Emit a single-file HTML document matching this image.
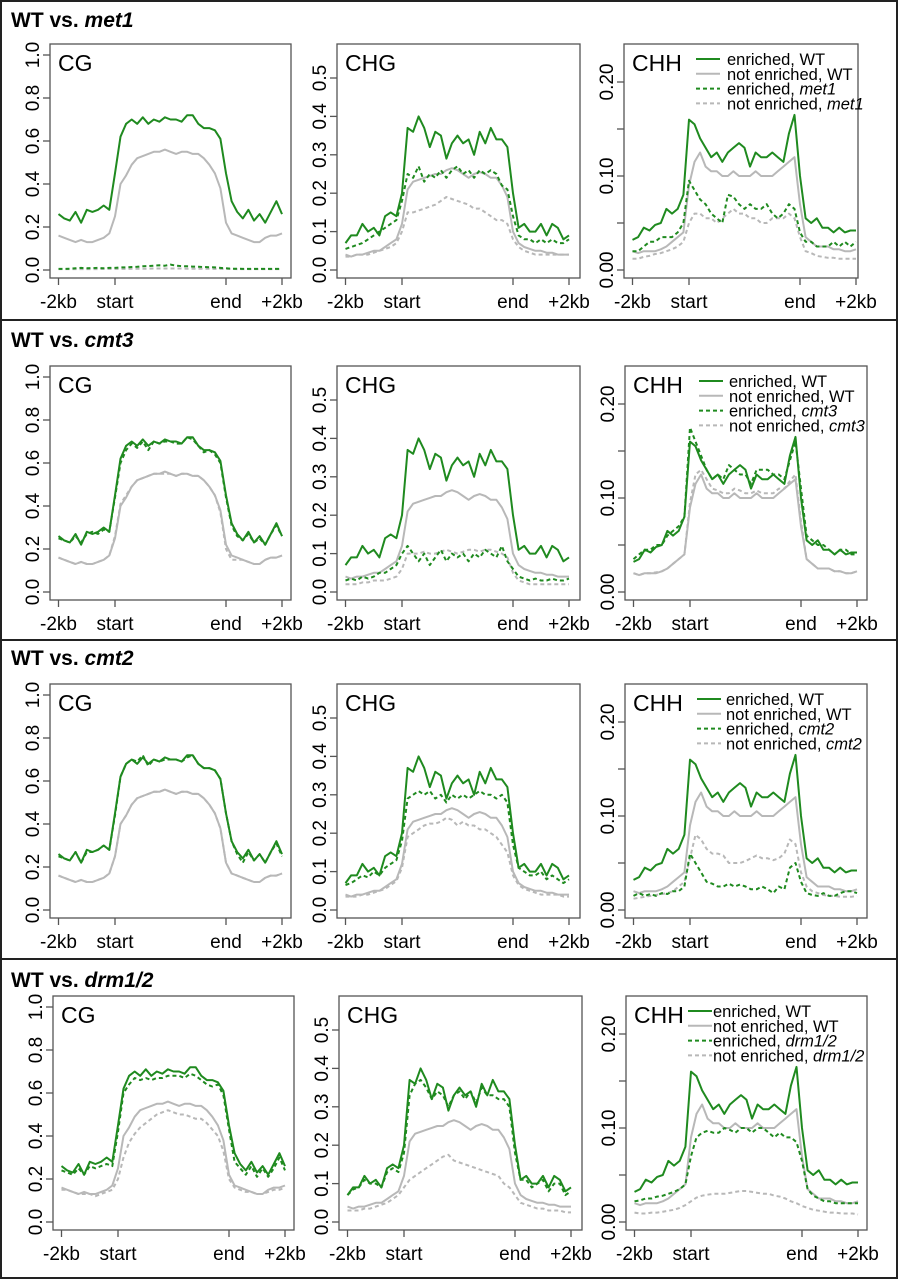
<!DOCTYPE html>
<html><head><meta charset="utf-8"><title>Methylation profiles</title>
<style>
html,body{margin:0;padding:0;background:#fff}
svg{display:block;font-family:"Liberation Sans",Arial,sans-serif}
</style></head>
<body>
<svg id="fig" width="899" height="1280" viewBox="0 0 899 1280" xmlns="http://www.w3.org/2000/svg"></svg>
<script>
// ---- data ----
const binLabels = ['-2kb','start','end','+2kb'];
const contexts = ['CG','CHG','CHH'];
const mutants = ['met1','cmt3','cmt2','drm1/2'];
const cgTicks = ['0.0','0.2','0.4','0.6','0.8','1.0'];
const cgTickValues = [0,0.2,0.4,0.6,0.8,1.0];
const chgTicks = ['0.0','0.1','0.2','0.3','0.4','0.5'];
const chgTickValues = [0,0.1,0.2,0.3,0.4,0.5];
const chhTicks = ['0.00','','0.10','','0.20'];
const chhTickValues = [0,0.05,0.10,0.15,0.20];

const wtCgEnr = [0.26,0.24,0.23,0.27,0.22,0.28,0.27,0.28,0.30,0.28,0.45,0.62,0.68,0.70,0.68,0.71,0.68,0.70,0.69,0.71,0.70,0.70,0.69,0.72,0.72,0.68,0.66,0.66,0.65,0.61,0.45,0.32,0.27,0.24,0.28,0.23,0.26,0.22,0.27,0.32,0.26];
const wtCgNot = [0.16,0.15,0.14,0.13,0.14,0.13,0.13,0.14,0.15,0.17,0.25,0.40,0.44,0.49,0.52,0.53,0.54,0.55,0.55,0.56,0.55,0.54,0.55,0.55,0.54,0.54,0.52,0.49,0.45,0.38,0.22,0.17,0.16,0.15,0.14,0.13,0.13,0.15,0.16,0.16,0.17];
const wtChgEnr = [0.07,0.09,0.09,0.12,0.10,0.11,0.09,0.14,0.15,0.14,0.20,0.37,0.36,0.40,0.37,0.32,0.36,0.35,0.29,0.33,0.35,0.33,0.34,0.30,0.36,0.33,0.37,0.34,0.34,0.32,0.20,0.11,0.12,0.10,0.10,0.12,0.09,0.12,0.11,0.08,0.09];
const wtChgNot = [0.04,0.035,0.04,0.04,0.045,0.05,0.05,0.06,0.07,0.08,0.12,0.21,0.23,0.235,0.24,0.245,0.25,0.25,0.26,0.265,0.26,0.25,0.24,0.25,0.255,0.25,0.24,0.24,0.22,0.19,0.10,0.07,0.06,0.055,0.05,0.05,0.045,0.045,0.04,0.04,0.04];
const wtChhEnr = [0.032,0.035,0.045,0.042,0.048,0.05,0.065,0.06,0.065,0.08,0.16,0.155,0.14,0.13,0.12,0.125,0.115,0.125,0.13,0.135,0.13,0.11,0.125,0.12,0.12,0.125,0.12,0.115,0.145,0.165,0.10,0.055,0.05,0.055,0.045,0.045,0.04,0.045,0.04,0.042,0.042];
const wtChhNot = [0.02,0.018,0.02,0.02,0.02,0.022,0.025,0.03,0.035,0.04,0.09,0.115,0.125,0.11,0.105,0.105,0.10,0.10,0.105,0.10,0.10,0.10,0.105,0.10,0.10,0.10,0.105,0.11,0.115,0.12,0.07,0.035,0.03,0.025,0.025,0.025,0.022,0.022,0.02,0.02,0.022];

const met1CgEnr = [0.005,0.005,0.006,0.008,0.01,0.008,0.009,0.01,0.008,0.01,0.01,0.012,0.012,0.014,0.015,0.017,0.018,0.02,0.022,0.02,0.025,0.02,0.018,0.017,0.016,0.015,0.014,0.013,0.012,0.01,0.008,0.006,0.006,0.005,0.005,0.005,0.005,0.005,0.005,0.005,0.005];
const met1CgNot = [0.004,0.004,0.004,0.004,0.004,0.004,0.004,0.004,0.005,0.005,0.005,0.005,0.005,0.006,0.006,0.006,0.006,0.007,0.007,0.007,0.007,0.007,0.007,0.006,0.006,0.006,0.006,0.006,0.005,0.005,0.005,0.005,0.004,0.004,0.004,0.004,0.004,0.004,0.004,0.004,0.004];
const met1ChgEnr = [0.055,0.06,0.065,0.07,0.08,0.09,0.10,0.11,0.12,0.13,0.18,0.25,0.24,0.27,0.23,0.25,0.24,0.26,0.24,0.26,0.27,0.25,0.26,0.24,0.26,0.25,0.26,0.25,0.22,0.21,0.14,0.09,0.08,0.08,0.07,0.08,0.07,0.08,0.07,0.07,0.08];
const met1ChgNot = [0.035,0.035,0.04,0.04,0.04,0.045,0.05,0.055,0.06,0.07,0.10,0.15,0.15,0.155,0.16,0.165,0.17,0.18,0.19,0.185,0.18,0.175,0.17,0.16,0.16,0.15,0.14,0.13,0.13,0.12,0.08,0.06,0.05,0.045,0.04,0.04,0.04,0.04,0.04,0.04,0.04];
const met1ChhEnr = [0.02,0.02,0.025,0.03,0.03,0.035,0.035,0.035,0.04,0.05,0.095,0.085,0.075,0.07,0.06,0.055,0.05,0.08,0.078,0.07,0.065,0.07,0.065,0.065,0.07,0.06,0.055,0.06,0.07,0.065,0.04,0.03,0.03,0.025,0.025,0.025,0.03,0.025,0.03,0.025,0.03];
const met1ChhNot = [0.012,0.012,0.014,0.015,0.017,0.018,0.02,0.022,0.025,0.03,0.05,0.06,0.06,0.055,0.055,0.05,0.055,0.06,0.065,0.06,0.06,0.055,0.055,0.05,0.05,0.055,0.055,0.055,0.06,0.055,0.035,0.02,0.018,0.015,0.014,0.013,0.013,0.012,0.012,0.012,0.012];

const cmt3CgEnr = [0.25,0.24,0.23,0.26,0.23,0.27,0.28,0.27,0.29,0.28,0.44,0.60,0.66,0.69,0.67,0.70,0.66,0.70,0.69,0.70,0.70,0.69,0.69,0.72,0.71,0.68,0.65,0.66,0.64,0.60,0.44,0.31,0.26,0.24,0.27,0.23,0.25,0.22,0.27,0.31,0.26];
const cmt3CgNot = [0.16,0.15,0.14,0.13,0.14,0.13,0.13,0.14,0.15,0.17,0.26,0.41,0.45,0.49,0.52,0.53,0.54,0.55,0.55,0.55,0.55,0.54,0.55,0.55,0.54,0.54,0.52,0.49,0.45,0.37,0.20,0.15,0.15,0.15,0.14,0.13,0.13,0.15,0.16,0.16,0.17];
const cmt3ChgEnr = [0.03,0.035,0.03,0.04,0.035,0.04,0.05,0.05,0.06,0.07,0.10,0.12,0.10,0.08,0.10,0.07,0.09,0.11,0.08,0.10,0.09,0.10,0.08,0.10,0.09,0.11,0.10,0.09,0.12,0.08,0.06,0.04,0.035,0.03,0.035,0.03,0.03,0.035,0.03,0.03,0.035];
const cmt3ChgNot = [0.02,0.02,0.02,0.025,0.025,0.03,0.03,0.03,0.035,0.04,0.06,0.10,0.10,0.10,0.105,0.10,0.10,0.105,0.11,0.105,0.10,0.105,0.11,0.11,0.105,0.11,0.11,0.105,0.10,0.09,0.05,0.03,0.025,0.02,0.02,0.02,0.02,0.02,0.02,0.02,0.02];
const cmt3ChhEnr = [0.035,0.04,0.045,0.045,0.05,0.05,0.06,0.065,0.07,0.08,0.175,0.16,0.145,0.13,0.12,0.125,0.12,0.135,0.13,0.125,0.125,0.115,0.13,0.13,0.13,0.125,0.125,0.12,0.14,0.16,0.11,0.06,0.055,0.05,0.05,0.045,0.04,0.045,0.045,0.04,0.04];
const cmt3ChhNot = [0.02,0.018,0.02,0.02,0.021,0.022,0.025,0.03,0.035,0.04,0.095,0.125,0.13,0.12,0.11,0.108,0.105,0.105,0.11,0.108,0.105,0.105,0.108,0.105,0.105,0.105,0.11,0.11,0.118,0.125,0.075,0.035,0.03,0.025,0.025,0.025,0.022,0.022,0.02,0.02,0.022];

const cmt2CgEnr = [0.25,0.24,0.23,0.27,0.22,0.27,0.27,0.28,0.30,0.28,0.44,0.62,0.68,0.70,0.69,0.72,0.67,0.70,0.69,0.70,0.70,0.70,0.69,0.71,0.72,0.68,0.66,0.66,0.65,0.61,0.45,0.32,0.26,0.22,0.27,0.23,0.26,0.22,0.27,0.31,0.25];
const cmt2CgNot = [0.16,0.15,0.14,0.13,0.14,0.13,0.13,0.14,0.15,0.17,0.25,0.40,0.44,0.49,0.52,0.53,0.54,0.55,0.55,0.56,0.55,0.54,0.55,0.55,0.54,0.54,0.52,0.49,0.45,0.38,0.22,0.17,0.16,0.15,0.14,0.13,0.13,0.15,0.16,0.16,0.17];
const cmt2ChgEnr = [0.065,0.07,0.08,0.09,0.085,0.10,0.09,0.11,0.12,0.13,0.18,0.29,0.30,0.31,0.30,0.31,0.29,0.30,0.28,0.30,0.29,0.30,0.29,0.30,0.31,0.30,0.30,0.29,0.30,0.28,0.17,0.11,0.10,0.09,0.09,0.10,0.08,0.09,0.08,0.07,0.08];
const cmt2ChgNot = [0.035,0.035,0.035,0.04,0.04,0.045,0.05,0.055,0.065,0.075,0.11,0.19,0.20,0.21,0.22,0.225,0.225,0.23,0.24,0.235,0.22,0.23,0.22,0.22,0.21,0.21,0.20,0.19,0.17,0.15,0.09,0.065,0.055,0.05,0.045,0.04,0.04,0.04,0.04,0.035,0.035];
const cmt2ChhEnr = [0.015,0.018,0.015,0.017,0.015,0.018,0.017,0.02,0.02,0.025,0.06,0.05,0.04,0.03,0.028,0.025,0.025,0.028,0.025,0.027,0.025,0.022,0.022,0.025,0.022,0.018,0.025,0.022,0.045,0.05,0.03,0.018,0.016,0.015,0.018,0.015,0.015,0.018,0.02,0.02,0.018];
const cmt2ChhNot = [0.012,0.013,0.014,0.015,0.016,0.017,0.018,0.02,0.025,0.03,0.055,0.08,0.075,0.065,0.06,0.06,0.058,0.05,0.05,0.05,0.052,0.055,0.058,0.055,0.055,0.053,0.055,0.06,0.075,0.07,0.04,0.025,0.02,0.018,0.016,0.015,0.015,0.014,0.014,0.014,0.015];

const drmCgEnr = [0.24,0.23,0.22,0.25,0.22,0.26,0.25,0.26,0.27,0.26,0.42,0.60,0.64,0.67,0.66,0.67,0.66,0.67,0.67,0.68,0.68,0.68,0.67,0.69,0.68,0.66,0.64,0.63,0.64,0.59,0.43,0.28,0.25,0.22,0.26,0.21,0.25,0.21,0.25,0.30,0.24];
const drmCgNot = [0.15,0.15,0.14,0.13,0.13,0.13,0.12,0.13,0.14,0.15,0.20,0.30,0.37,0.41,0.44,0.46,0.48,0.50,0.51,0.52,0.51,0.50,0.50,0.49,0.48,0.48,0.46,0.43,0.40,0.33,0.20,0.16,0.15,0.14,0.14,0.13,0.13,0.14,0.15,0.15,0.16];
const drmChgEnr = [0.07,0.085,0.09,0.11,0.10,0.10,0.09,0.13,0.14,0.13,0.18,0.33,0.36,0.37,0.35,0.32,0.34,0.33,0.30,0.33,0.34,0.32,0.34,0.31,0.35,0.33,0.33,0.32,0.32,0.30,0.18,0.11,0.11,0.09,0.10,0.11,0.08,0.10,0.10,0.07,0.08];
const drmChgNot = [0.03,0.03,0.03,0.035,0.035,0.04,0.045,0.05,0.06,0.07,0.09,0.11,0.12,0.13,0.14,0.15,0.16,0.17,0.175,0.16,0.155,0.15,0.145,0.14,0.135,0.13,0.125,0.12,0.10,0.09,0.07,0.05,0.045,0.04,0.035,0.035,0.03,0.03,0.03,0.025,0.025];
const drmChhEnr = [0.022,0.023,0.025,0.025,0.027,0.028,0.03,0.032,0.035,0.04,0.07,0.09,0.095,0.097,0.095,0.095,0.10,0.098,0.095,0.10,0.10,0.095,0.10,0.10,0.095,0.09,0.095,0.09,0.09,0.085,0.065,0.035,0.028,0.025,0.022,0.022,0.02,0.02,0.02,0.02,0.02];
const drmChhNot = [0.01,0.009,0.009,0.01,0.01,0.011,0.012,0.013,0.015,0.018,0.022,0.026,0.028,0.029,0.03,0.03,0.03,0.031,0.032,0.033,0.033,0.032,0.031,0.03,0.03,0.028,0.027,0.025,0.022,0.02,0.017,0.015,0.013,0.012,0.011,0.01,0.01,0.009,0.009,0.009,0.008];

const mutantSeries = [
  [[met1CgEnr,met1CgNot],[met1ChgEnr,met1ChgNot],[met1ChhEnr,met1ChhNot]],
  [[cmt3CgEnr,cmt3CgNot],[cmt3ChgEnr,cmt3ChgNot],[cmt3ChhEnr,cmt3ChhNot]],
  [[cmt2CgEnr,cmt2CgNot],[cmt2ChgEnr,cmt2ChgNot],[cmt2ChhEnr,cmt2ChhNot]],
  [[drmCgEnr,drmCgNot],[drmChgEnr,drmChgNot],[drmChhEnr,drmChhNot]]
];
const wtSeries = [[wtCgEnr,wtCgNot],[wtChgEnr,wtChgNot],[wtChhEnr,wtChhNot]];

// ---- layout ----
const rowTop = [0,320,640,959];
const rowTitleY = [27,347,665,987];
const rowBoxTop = [44,366,684,996];
const rowColLeft = [[50,337,624],[50,337,625],[50,337,625],[53,339,626]];
const rowColWidth = [[241,243,234],[241,243,242],[241,243,242],[241,243,241]];
const legendLineOff = [72,74,72,62];
const legendTextGap = [31,30,29,25];
const tickOff = [8.5,65,176,232];
const pxPerUnit = [215,384,940];
const BOX_H = 234, ZERO_OFF = 226;
const GREEN = '#1f8a1f', GRAY = '#b8b8b8';

const NS = 'http://www.w3.org/2000/svg';
const svg = document.getElementById('fig');
function mk(tag, attrs, parent){
  const e = document.createElementNS(NS, tag);
  for (const k in attrs) e.setAttribute(k, attrs[k]);
  (parent||svg).appendChild(e);
  return e;
}
function xScale(i, left){
  const knots=[0,10,30,40];
  for (let s=0;s<3;s++){
    if (i<=knots[s+1]){
      const t=(i-knots[s])/(knots[s+1]-knots[s]);
      return left+tickOff[s]+t*(tickOff[s+1]-tickOff[s]);
    }
  }
  return left+tickOff[3];
}
function yScale(v, top, c){ return top+ZERO_OFF - v*pxPerUnit[c]; }

const frame = mk('rect',{x:1,y:1,width:896,height:1277,fill:'none',stroke:'#222','stroke-width':2});


for (let r=1;r<4;r++){
  const sep = mk('line',{x1:1,x2:897,y1:rowTop[r],y2:rowTop[r],stroke:'#222','stroke-width':2});
  
  
}

for (let r=0;r<4;r++){
  const row = mk('g',{});
  
  
  const title = mk('text',{x:11,y:rowTitleY[r],'font-size':21,'font-weight':'bold',fill:'#000'},row);
  
  
  title.appendChild(document.createTextNode('WT vs. '));
  const ti = mk('tspan',{'font-style':'italic'},title);
  ti.textContent = mutants[r];

  for (let c=0;c<3;c++){
    const left=rowColLeft[r][c], w=rowColWidth[r][c], top=rowBoxTop[r], bottom=top+BOX_H;
    const p = mk('g',{},row);
    
    

    const defs=[
      {d:wtSeries[c][1],col:GRAY,dash:null,name:'line-not-enriched-wt'},
      {d:mutantSeries[r][c][1],col:GRAY,dash:'4,3',name:'line-not-enriched-mutant'},
      {d:mutantSeries[r][c][0],col:GREEN,dash:'4,3',name:'line-enriched-mutant'},
      {d:wtSeries[c][0],col:GREEN,dash:null,name:'line-enriched-wt'}
    ];
    for (const s of defs){
      const pts = s.d.map((v,i)=>xScale(i,left).toFixed(1)+','+yScale(v,top,c).toFixed(1)).join(' ');
      const a={points:pts,fill:'none',stroke:s.col,'stroke-width':2,'stroke-linejoin':'round'};
      if (s.dash) a['stroke-dasharray']=s.dash;
      const pl = mk('polyline',a,p);
      
      
    }

    const box = mk('rect',{x:left,y:top,width:w,height:BOX_H,fill:'none',stroke:'#555','stroke-width':1.3},p);
    
    

    const lab = mk('text',{x:left+8,y:top+27,'font-size':23,fill:'#000'},p);
    
    
    lab.textContent = contexts[c];

    const xi=[0,10,30,40];
    for (let k=0;k<4;k++){
      const x=xScale(xi[k],left);
      const t = mk('line',{x1:x,x2:x,y1:bottom,y2:bottom+7,stroke:'#555','stroke-width':1.3},p);
      
      
      const tl = mk('text',{x:x,y:bottom+30,'font-size':19,'text-anchor':'middle',fill:'#000'},p);
      
      
      tl.textContent = binLabels[k];
    }
    const tv = [cgTickValues,chgTickValues,chhTickValues][c];
    const tlab = [cgTicks,chgTicks,chhTicks][c];
    for (let k=0;k<tv.length;k++){
      const y=yScale(tv[k],top,c);
      const t = mk('line',{x1:left-7,x2:left,y1:y,y2:y,stroke:'#555','stroke-width':1.3},p);
      
      
      if (tlab[k]){
        const yl = mk('text',{x:left-11,y:y,'font-size':19,'text-anchor':'middle',fill:'#000',transform:'rotate(-90 '+(left-11)+' '+y+')'},p);
        
        
        yl.textContent = tlab[k];
      }
    }

    if (c===2){
      const lg = mk('g',{},p);
      
      
      const items=[['enriched, ','WT',GREEN,null,false],['not enriched, ','WT',GRAY,null,false],['enriched, ',mutants[r],GREEN,'4,3',true],['not enriched, ',mutants[r],GRAY,'4,3',true]];
      for (let k=0;k<4;k++){
        const y=top+15+k*14.8;
        const lx=left+legendLineOff[r];
        const la={x1:lx,x2:lx+24,y1:y,y2:y,stroke:items[k][2],'stroke-width':2};
        if (items[k][3]) la['stroke-dasharray']=items[k][3];
        const ll = mk('line',la,lg);
        
        
        const lt = mk('text',{x:lx+legendTextGap[r],y:y+6,'font-size':16.5,fill:'#000'},lg);
        
        
        lt.appendChild(document.createTextNode(items[k][0]));
        const sp = mk('tspan',items[k][4]?{'font-style':'italic'}:{},lt);
        sp.textContent = items[k][1];
      }
    }
  }
}
</script>
</body></html>
